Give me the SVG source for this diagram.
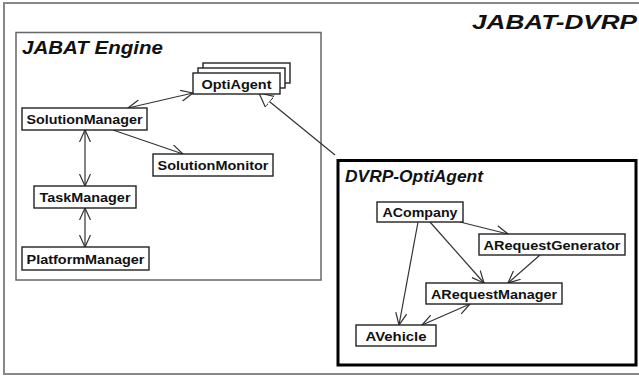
<svg xmlns="http://www.w3.org/2000/svg" width="639" height="376" viewBox="0 0 639 376">
<defs>
<style>
.frame{fill:#fff;stroke:#888;stroke-width:2}
.pkg{fill:none;stroke:#666;stroke-width:1.5}
.pkg2{fill:none;stroke:#000;stroke-width:3}
.box{fill:#fff;stroke:#222;stroke-width:1.4}
.lbl{font-family:"Liberation Sans",Arial,sans-serif;font-weight:bold;font-size:13.5px;fill:#111;text-anchor:middle}
.title{font-family:"Liberation Sans",Arial,sans-serif;font-weight:bold;font-style:italic;fill:#111}
.c{fill:none;stroke:#333;stroke-width:1.2}
</style>
<marker id="open" markerUnits="userSpaceOnUse" markerWidth="16" markerHeight="16" refX="12" refY="6" orient="auto-start-reverse">
<path d="M0,0.5 L12,6 L0,11.5" fill="none" stroke="#333" stroke-width="1.2"/>
</marker>
<marker id="tri" markerUnits="userSpaceOnUse" markerWidth="18" markerHeight="18" refX="14" refY="7.5" orient="auto">
<path d="M0,0.5 L14,7.5 L0,14.5 Z" fill="#fff" stroke="#333" stroke-width="1.2"/>
</marker>
</defs>
<rect class="frame" x="4" y="3" width="636" height="371"/>
<text class="title" x="637" y="29" font-size="21" text-anchor="end" textLength="165" lengthAdjust="spacingAndGlyphs">JABAT-DVRP</text>

<g id="jabat-engine">
<rect class="pkg" x="16" y="32.5" width="305" height="247.5"/>
<text class="title" x="22" y="54" font-size="19" textLength="141" lengthAdjust="spacingAndGlyphs">JABAT Engine</text>
</g>

<g id="dvrp-optiagent">
<rect class="pkg2" x="338" y="160.5" width="298" height="204.5"/>
<text class="title" x="345" y="182" font-size="16.5" textLength="138" lengthAdjust="spacingAndGlyphs">DVRP-OptiAgent</text>
</g>

<g id="connectors">
<line class="c" x1="128" y1="108" x2="193" y2="93" marker-start="url(#open)" marker-end="url(#open)"/>
<line class="c" x1="113" y1="130" x2="183" y2="154" marker-end="url(#open)"/>
<line class="c" x1="85" y1="130" x2="85" y2="186" marker-start="url(#open)" marker-end="url(#open)"/>
<line class="c" x1="85" y1="208" x2="85" y2="247" marker-start="url(#open)" marker-end="url(#open)"/>
<line class="c" x1="335" y1="155" x2="259" y2="93" marker-end="url(#tri)"/>
<line class="c" x1="460" y1="222" x2="508" y2="234" marker-end="url(#open)"/>
<line class="c" x1="430" y1="222" x2="484" y2="283" marker-end="url(#open)"/>
<line class="c" x1="418" y1="222" x2="399" y2="325" marker-end="url(#open)"/>
<line class="c" x1="540" y1="255" x2="508" y2="283" marker-end="url(#open)"/>
<line class="c" x1="470" y1="304" x2="422" y2="325" marker-start="url(#open)" marker-end="url(#open)"/>
</g>

<g id="optiagent">
<rect class="box" x="203" y="63" width="87" height="20"/>
<rect class="box" x="198" y="68" width="87" height="20"/>
<rect class="box" x="193" y="73" width="87" height="21"/>
<text class="lbl" x="236.5" y="88.5" textLength="70" lengthAdjust="spacingAndGlyphs">OptiAgent</text>
</g>
<g id="solutionmanager">
<rect class="box" x="22" y="108" width="125" height="22"/>
<text class="lbl" x="84.5" y="124" textLength="116" lengthAdjust="spacingAndGlyphs">SolutionManager</text>
</g>
<g id="solutionmonitor">
<rect class="box" x="153" y="154" width="120" height="22"/>
<text class="lbl" x="213" y="170" textLength="111" lengthAdjust="spacingAndGlyphs">SolutionMonitor</text>
</g>
<g id="taskmanager">
<rect class="box" x="34" y="186" width="102" height="22"/>
<text class="lbl" x="85" y="202" textLength="91" lengthAdjust="spacingAndGlyphs">TaskManager</text>
</g>
<g id="platformmanager">
<rect class="box" x="22" y="247" width="127" height="23"/>
<text class="lbl" x="85.5" y="263.5" textLength="118" lengthAdjust="spacingAndGlyphs">PlatformManager</text>
</g>
<g id="acompany">
<rect class="box" x="377" y="202" width="86" height="20"/>
<text class="lbl" x="420" y="217" textLength="75" lengthAdjust="spacingAndGlyphs">ACompany</text>
</g>
<g id="arequestgenerator">
<rect class="box" x="479" y="234" width="146" height="21"/>
<text class="lbl" x="552" y="249.5" textLength="137" lengthAdjust="spacingAndGlyphs">ARequestGenerator</text>
</g>
<g id="arequestmanager">
<rect class="box" x="426" y="283" width="136" height="21"/>
<text class="lbl" x="494" y="298.5" textLength="126" lengthAdjust="spacingAndGlyphs">ARequestManager</text>
</g>
<g id="avehicle">
<rect class="box" x="356" y="325" width="80" height="21"/>
<text class="lbl" x="396" y="340.5" textLength="61" lengthAdjust="spacingAndGlyphs">AVehicle</text>
</g>
</svg>
